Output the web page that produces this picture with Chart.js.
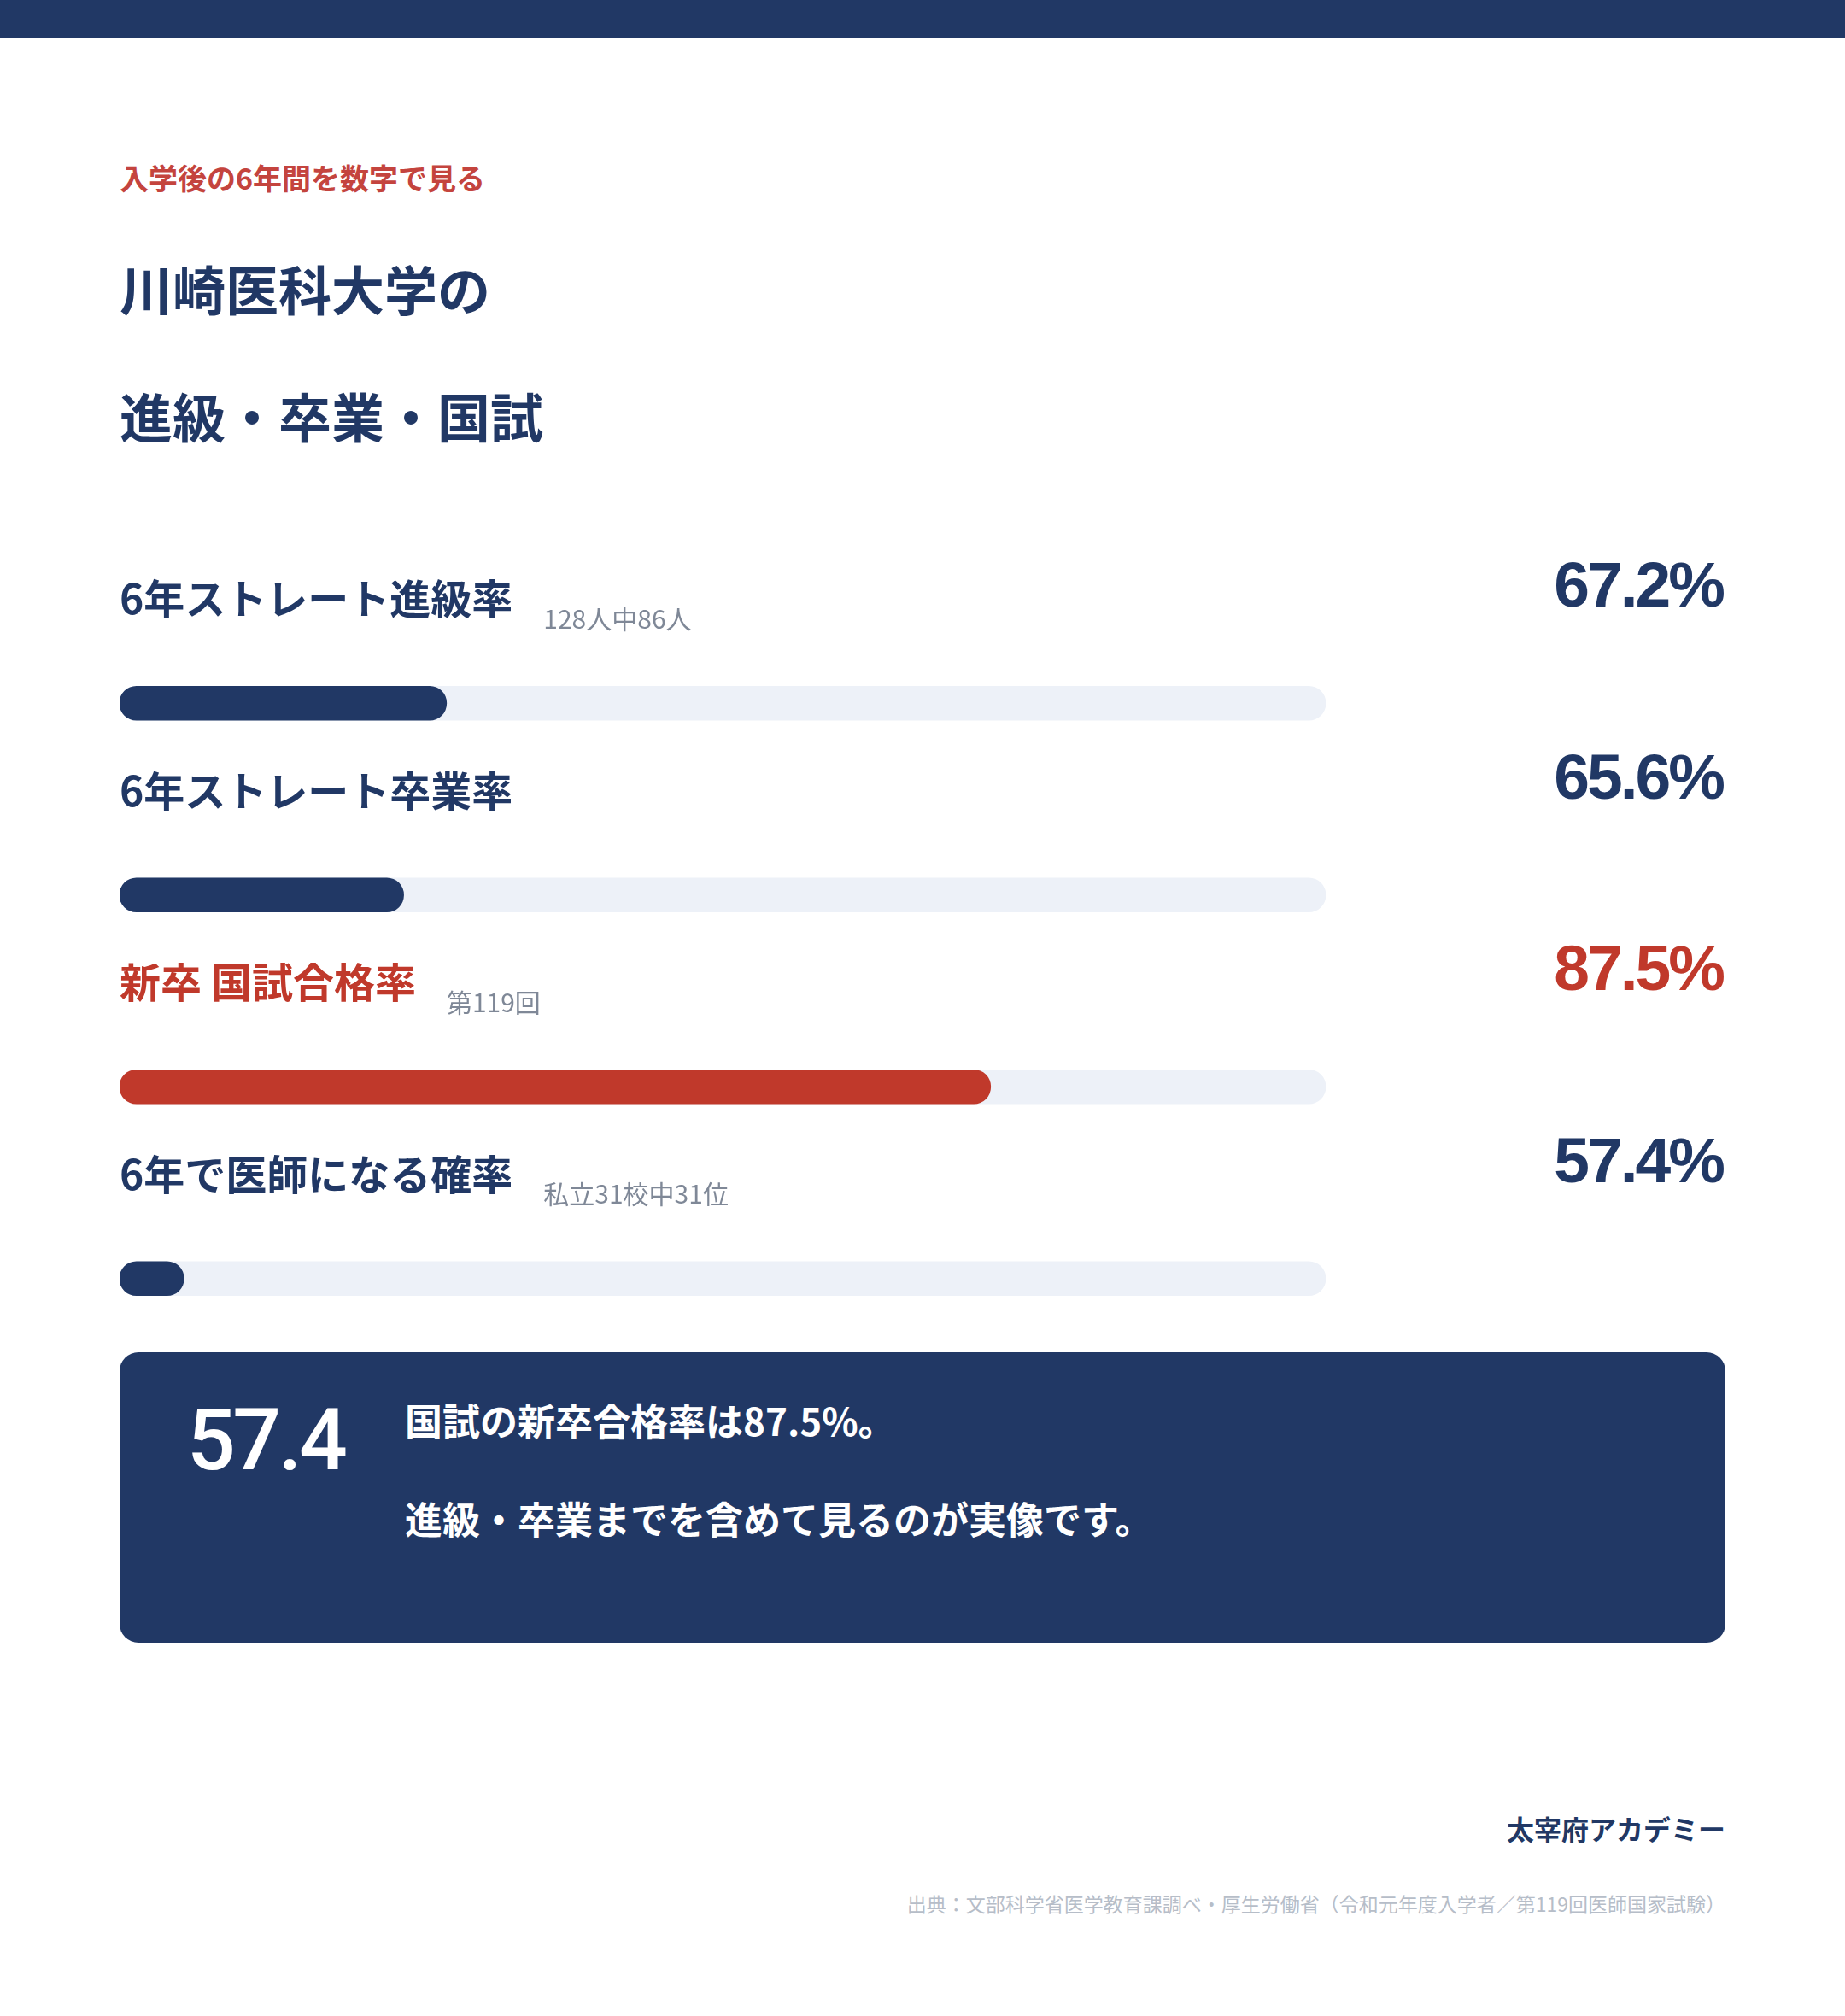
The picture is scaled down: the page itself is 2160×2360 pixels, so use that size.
<!DOCTYPE html>
<html lang="ja">
<head>
<meta charset="utf-8">
<script src="https://cdn.jsdelivr.net/npm/chart.js@4.4.1/dist/chart.umd.min.js"></script>
<style>
  html, body { margin:0; padding:0; background:#ffffff; }
  body { width:2160px; height:2360px; position:relative; overflow:hidden; font-family:"Noto Sans CJK JP","Noto Sans",sans-serif; }
  .topbar { position:absolute; left:0; top:0; width:2160px; height:45px; background:#213865; }
  .t { position:absolute; white-space:nowrap; }
  #sub { left:140px; top:188px; font-size:34px; line-height:40px; font-weight:700; color:#c4443e; }
  .title { left:140px; font-size:62px; line-height:80px; font-weight:700; color:#213865; }
  #t1 { top:297px; }
  #t2 { top:446px; }
  #chartWrap { position:absolute; left:140px; top:560px; width:1880px; height:1049px; }
  #box { position:absolute; left:140px; top:1583px; width:1880px; height:340px; background:#213865; border-radius:22px; }
  #big { left:79px; top:53px; font-family:Roboto,"Liberation Sans",sans-serif; font-size:100px; line-height:100px; font-weight:500; color:#ffffff; letter-spacing:-3.5px; }
  .bl { left:334px; font-size:44px; line-height:56px; font-weight:700; color:#ffffff; }
  #b1 { top:51px; }
  #b2 { top:166px; }
  #brand { right:140px; top:2120px; font-size:32px; line-height:40px; font-weight:700; color:#213865; }
  #src { right:140px; top:2213px; font-size:23px; line-height:30px; color:#b6bdc8; }
</style>
</head>
<body>
<div class="topbar"></div>
<div class="t" id="sub">入学後の6年間を数字で見る</div>
<div class="t title" id="t1">川崎医科大学の</div>
<div class="t title" id="t2">進級・卒業・国試</div>
<div id="chartWrap"><canvas id="c" width="1880" height="1049" style="width:1880px;height:1049px;"></canvas></div>
<div id="box">
  <div class="t" id="big">57.4</div>
  <div class="t bl" id="b1">国試の新卒合格率は87.5%。</div>
  <div class="t bl" id="b2">進級・卒業までを含めて見るのが実像です。</div>
</div>
<div class="t" id="brand">太宰府アカデミー</div>
<div class="t" id="src">出典：文部科学省医学教育課調べ・厚生労働省（令和元年度入学者／第119回医師国家試験）</div>
<script>
// ---- data ----
const categories = ['6年ストレート進級率', '6年ストレート卒業率', '新卒 国試合格率', '6年で医師になる確率'];
const notes = ['128人中86人', '', '第119回', '私立31校中31位'];
const rates = [67.2, 65.6, 87.5, 57.4];
const trackValues = [100, 100, 100, 100];
const axisMin = 55;
const axisMax = 100;
const highlightIndex = 2;

// ---- styles ----
const NAVY = '#213865';
const RED = '#c0392b';
const TRACK = '#edf1f8';
const NOTE = '#7f8897';

const rowText = {
  id: 'rowText',
  afterDatasetsDraw(chart) {
    const ctx = chart.ctx;
    const area = chart.chartArea;
    const y = chart.scales.y;
    ctx.save();
    categories.forEach((label, i) => {
      const cy = y.getPixelForValue(i);
      const color = i === highlightIndex ? RED : NAVY;
      ctx.textBaseline = 'middle';
      ctx.textAlign = 'left';
      ctx.fillStyle = color;
      ctx.font = '700 48px "Noto Sans CJK JP"';
      ctx.fillText(label, area.left, cy - 122);
      const w = ctx.measureText(label).width;
      if (notes[i]) {
        ctx.font = '400 30px "Noto Sans CJK JP"';
        ctx.fillStyle = NOTE;
        ctx.fillText(notes[i], area.left + w + 36, cy - 99);
      }
      ctx.textBaseline = 'alphabetic';
      ctx.font = '700 75px "Liberation Sans"';
      ctx.letterSpacing = '-3px';
      ctx.textAlign = 'right';
      ctx.fillStyle = color;
      ctx.fillText(rates[i].toFixed(1) + '%', area.right + 465, cy - 113);
      ctx.letterSpacing = '0px';
    });
    ctx.restore();
  }
};

function build() {
  new Chart(document.getElementById('c'), {
    type: 'bar',
    data: {
      labels: categories,
      datasets: [
        {
          data: rates,
          base: axisMin,
          backgroundColor: rates.map((_, i) => i === highlightIndex ? RED : NAVY),
          borderRadius: 20,
          borderSkipped: false,
          barThickness: 40,
          grouped: false
        },
        {
          data: trackValues,
          base: axisMin,
          backgroundColor: TRACK,
          borderRadius: 20,
          borderSkipped: false,
          barThickness: 40,
          grouped: false
        }
      ]
    },
    options: {
      indexAxis: 'y',
      responsive: false,
      animation: false,
      devicePixelRatio: 1,
      layout: { padding: { top: 151, right: 468, left: 0, bottom: 0 } },
      scales: {
        x: { display: false, min: axisMin, max: axisMax },
        y: { display: false }
      },
      plugins: { legend: { display: false }, tooltip: { enabled: false } }
    },
    plugins: [rowText]
  });
}
if (document.fonts && document.fonts.ready) {
  Promise.all([
    document.fonts.load('700 48px "Noto Sans CJK JP"'),
    document.fonts.load('400 30px "Noto Sans CJK JP"'),
    document.fonts.load('700 75px "Liberation Sans"')
  ]).catch(() => {}).then(() => document.fonts.ready).then(build);
} else { build(); }
</script>
</body>
</html>
